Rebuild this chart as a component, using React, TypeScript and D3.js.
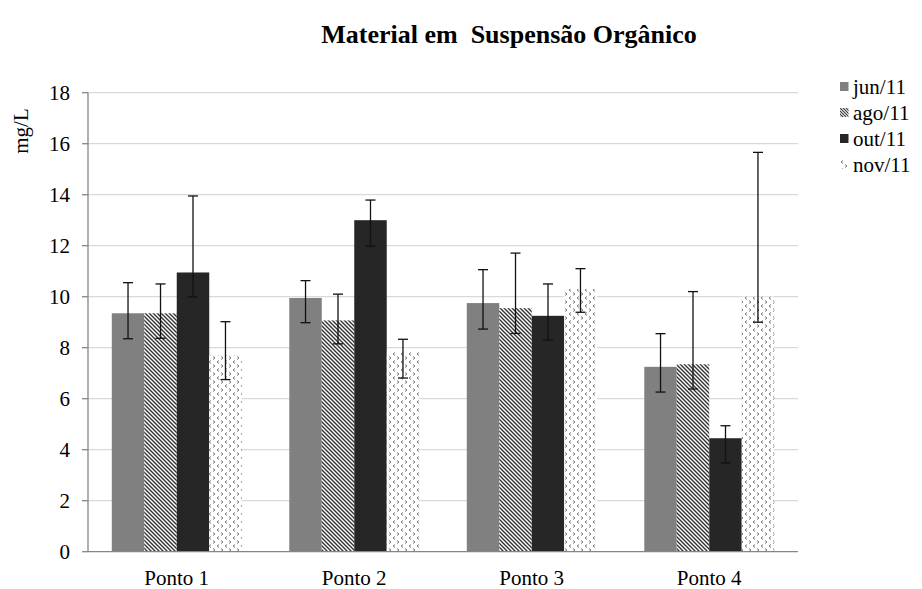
import React from "react";
import * as d3 from "d3";

const categories = ["Ponto 1", "Ponto 2", "Ponto 3", "Ponto 4"];
const seriesNames = ["jun/11", "ago/11", "out/11", "nov/11"];
const junValues = [9.35, 9.95, 9.75, 7.25];
const agoValues = [9.35, 9.07, 9.55, 7.35];
const outValues = [10.95, 13.0, 9.25, 4.45];
const novValues = [7.7, 7.84, 10.3, 10.0];
const junLow = [8.35, 8.98, 8.73, 6.26];
const junHigh = [10.55, 10.63, 11.06, 8.55];
const agoLow = [8.37, 8.15, 8.56, 6.38];
const agoHigh = [10.5, 10.1, 11.71, 10.2];
const outLow = [9.99, 11.98, 8.3, 3.48];
const outHigh = [13.95, 13.79, 10.5, 4.94];
const novLow = [6.75, 6.81, 9.39, 9.0];
const novHigh = [9.02, 8.33, 11.1, 15.66];
const yTicks = [0, 2, 4, 6, 8, 10, 12, 14, 16, 18];
const title = "Material em  Suspensão Orgânico";
const yLabel = "mg/L";

const values = [junValues, agoValues, outValues, novValues];
const lows = [junLow, agoLow, outLow, novLow];
const highs = [junHigh, agoHigh, outHigh, novHigh];
const fills = ["#808080", "url(#pAgo)", "#262626", "url(#pNov)"];

const W = 922;
const H = 589;
const left = 88;
const right = 798;
const top = 92.7;
const bottom = 551.7;
const font = "'Liberation Serif', 'Times New Roman', serif";

export default function App() {
  const x0 = d3
    .scaleBand<string>()
    .domain(categories)
    .range([left, right])
    .paddingInner(0.268)
    .paddingOuter(0.134);
  const x1 = d3
    .scaleBand<string>()
    .domain(seriesNames)
    .range([0, x0.bandwidth()]);
  const y = d3.scaleLinear().domain([0, 18]).range([bottom, top]);
  const cap = 5;

  return (
    <svg
      width={W}
      height={H}
      style={{ position: "absolute", left: 0, top: 0, background: "#fff" }}
      fontFamily={font}
    >
      <defs>
        <pattern id="pAgo" width="4" height="4" patternUnits="userSpaceOnUse">
          <rect width="4" height="4" fill="#fff" />
          <path d="M-1,-1 L5,5 M-1,3 L1,5 M3,-1 L5,1" stroke="#333" strokeWidth="1.4" />
        </pattern>
        <pattern id="pNov" width="8" height="8" patternUnits="userSpaceOnUse">
          <rect width="8" height="8" fill="#fff" />
          <path
            d="M3,0.5 L1,2 L3,3.5 M5,4.5 L7,6 L5,7.5"
            stroke="#7a7a7a"
            strokeWidth="1"
            fill="none"
          />
        </pattern>
        <pattern id="pAgoL" width="3" height="3" patternUnits="userSpaceOnUse">
          <rect width="3" height="3" fill="#fff" />
          <path d="M-1,-1 L4,4 M-1,2 L1,4 M2,-1 L4,1" stroke="#333" strokeWidth="1.1" />
        </pattern>
      </defs>
      <rect width={W} height={H} fill="#fff" />

      <text
        x={509}
        y={43}
        textAnchor="middle"
        fontSize={26}
        fontWeight="bold"
        style={{ whiteSpace: "pre" }}
        xmlSpace="preserve"
      >
        {title}
      </text>

      {yTicks.map((t) =>
        t === 0 ? null : (
          <line key={"g" + t} x1={left} x2={right} y1={y(t)} y2={y(t)} stroke="#d9d9d9" strokeWidth={1.3} />
        )
      )}

      {categories.map((c, ci) =>
        seriesNames.map((s, si) => {
          const v = values[si][ci];
          const bx = (x0(c) as number) + (x1(s) as number);
          return (
            <rect
              key={c + s}
              x={bx}
              y={y(v)}
              width={x1.bandwidth()}
              height={y(0) - y(v)}
              fill={fills[si]}
            />
          );
        })
      )}

      {categories.map((c, ci) =>
        seriesNames.map((s, si) => {
          const cx = (x0(c) as number) + (x1(s) as number) + x1.bandwidth() / 2;
          const lo = y(lows[si][ci]);
          const hi = y(highs[si][ci]);
          return (
            <g key={"e" + c + s} stroke="#111" strokeWidth={1.3}>
              <line x1={cx} x2={cx} y1={lo} y2={hi} />
              <line x1={cx - cap} x2={cx + cap} y1={lo} y2={lo} />
              <line x1={cx - cap} x2={cx + cap} y1={hi} y2={hi} />
            </g>
          );
        })
      )}

      <line x1={left} x2={left} y1={top} y2={bottom} stroke="#868686" strokeWidth={1.3} />
      <line x1={left} x2={right} y1={bottom} y2={bottom} stroke="#868686" strokeWidth={1.3} />
      {yTicks.map((t) => (
        <g key={"t" + t}>
          <line x1={left - 6} x2={left} y1={y(t)} y2={y(t)} stroke="#868686" strokeWidth={1.3} />
          <text x={70} y={y(t)} dy="0.35em" textAnchor="end" fontSize={21}>
            {t}
          </text>
        </g>
      ))}

      {categories.map((c) => (
        <text
          key={"x" + c}
          x={(x0(c) as number) + x0.bandwidth() / 2}
          y={585}
          textAnchor="middle"
          fontSize={21}
        >
          {c}
        </text>
      ))}

      <text
        transform={`translate(28,131) rotate(-90)`}
        textAnchor="middle"
        fontSize={21}
      >
        {yLabel}
      </text>

      {seriesNames.map((s, si) => {
        const by = 94 + si * 26;
        return (
          <g key={"l" + s}>
            <rect
              x={840}
              y={by - 12}
              width={8.5}
              height={9}
              fill={si === 1 ? "url(#pAgoL)" : fills[si]}
            />
            <text x={853} y={by} fontSize={21}>
              {s}
            </text>
          </g>
        );
      })}
    </svg>
  );
}
